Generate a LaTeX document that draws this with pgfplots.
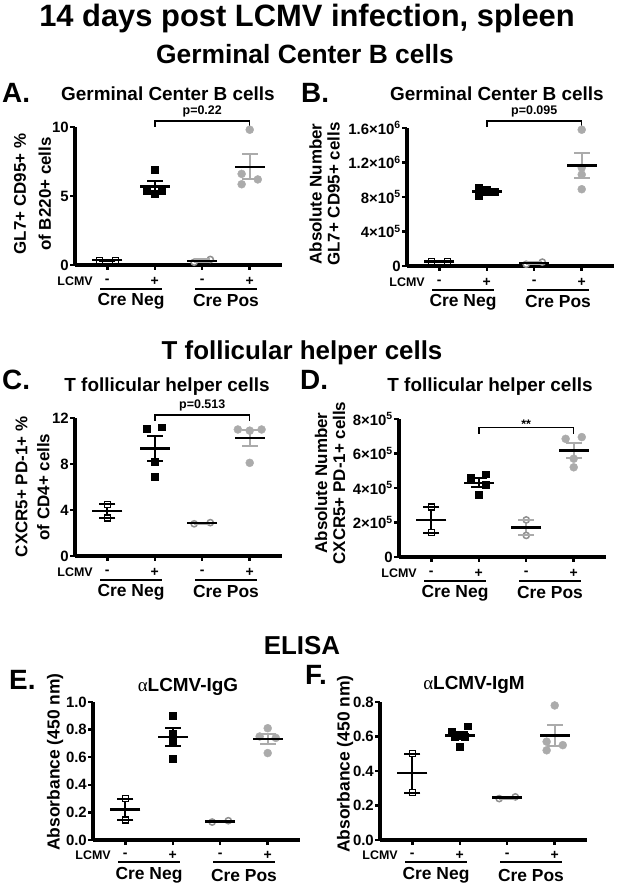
\documentclass[border=0pt]{standalone}
\usepackage{fontspec}
\setmainfont{Liberation Sans}
\newfontfamily\greekserif{Liberation Serif}
\usepackage{pgfplots}
\pgfplotsset{compat=1.18}
\definecolor{cpfill}{HTML}{ABABAB}
\definecolor{cpedge}{HTML}{8F8F8F}
\newcommand{\fs}[1]{\fontsize{#1}{#1}\selectfont\bfseries}
\pgfplotsset{
 panel/.style={
  scale only axis, width=207bp, height=138bp,
  xmin=0.32, xmax=4.68, ymin=0,
  axis x line=bottom, axis y line=left,
  axis line style={line width=4.2bp, black, -},
  xtick={1,2,3,4}, xticklabels={},
  tick align=outside, major tick length=5bp,
  tick style={line width=2.5bp, black},
  yticklabel style={font=\fs{15}, inner sep=1bp},
  scaled y ticks=false,
  clip=false, anchor=south west,
 },
 negpt/.style={only marks, mark=square*, mark size=3.4bp, mark options={fill=black, draw=black}},
 negopen/.style={only marks, mark=square*, mark size=3bp, mark options={fill=white, draw=black, line width=1.3bp}},
 pospt/.style={only marks, mark=*, mark size=4bp, mark options={fill=cpfill, draw=cpfill}},
 posopen/.style={only marks, mark=*, mark size=3.1bp, mark options={fill=white, draw=cpedge, line width=1.5bp}},
}
% x, mean, hi, lo, colour of SEM
\newcommand{\grp}[5]{%
 \addplot[line width=2bp, #5] coordinates {(#1,#3) (#1,#4)};
 \addplot[only marks, mark=-, mark size=8bp, mark options={line width=2bp, #5}] coordinates {(#1,#3) (#1,#4)};
 \addplot[only marks, mark=-, mark size=15bp, mark options={line width=2.5bp, black}] coordinates {(#1,#2)};
}
% shifts: +/- row, underline, group names
\newcommand{\catrow}[3]{%
 \node[font=\fs{12.5}, anchor=east] at ([xshift=-11bp,yshift=-#1]axis cs:1,0) {LCMV};
 \node[font=\fs{14}] at ([yshift=-#1]axis cs:1,0) {-};
 \node[font=\fs{14}] at ([yshift=-#1]axis cs:2,0) {+};
 \node[font=\fs{14}] at ([yshift=-#1]axis cs:3,0) {-};
 \node[font=\fs{14}] at ([yshift=-#1]axis cs:4,0) {+};
 \draw[line width=2bp] ([yshift=-#2]axis cs:0.85,0) -- ([yshift=-#2]axis cs:2.15,0);
 \draw[line width=2bp] ([yshift=-#2]axis cs:2.85,0) -- ([yshift=-#2]axis cs:4.15,0);
 \node[font=\fs{17.5}] at ([yshift=-#3]axis cs:1.5,0) {Cre Neg};
 \node[font=\fs{17.5}] at ([yshift=-#3]axis cs:3.5,0) {Cre Pos};
}
% bracket low, high, text
\newcommand{\pbr}[3]{%
 \addplot[line width=1.5bp, black] coordinates {(2,#1) (2,#2) (4,#2) (4,#1)};
 \node[font=\fs{12.5}, anchor=base, yshift=6.5bp] at (axis cs:3,#2) {#3};
}
\begin{document}
\begin{tikzpicture}[x=1bp,y=1bp]
\path[use as bounding box] (0,0) rectangle (625,888);

% ---------- A ----------
\begin{axis}[panel, at={(75bp,623bp)}, ymax=10, ytick={0,5,10}, yticklabels={0,5,10}]
\addplot[negopen] coordinates {(0.83,0.35) (1.17,0.35)};
\addplot[negpt] coordinates {(2,6.9) (1.83,5.35) (2.15,5.4) (2,5.15)};
\addplot[posopen] coordinates {(2.83,0.2) (3.17,0.4)};
\addplot[pospt] coordinates {(4,9.8) (3.83,6.6) (4.17,6.2) (3.83,5.85)};
\grp{1}{0.35}{0.38}{0.32}{black}
\grp{2}{5.7}{6.1}{5.3}{black}
\grp{3}{0.3}{0.4}{0.2}{cpfill}
\grp{4}{7.11}{8.02}{6.2}{cpfill}
\pbr{10.0}{10.45}{p=0.22}
\catrow{16bp}{24bp}{36bp}
\end{axis}

% ---------- B ----------
\begin{axis}[panel, at={(407bp,622bp)}, ymax=1600000, ytick={0,400000,800000,1200000,1600000},
 yticklabels={0,4×10\textsuperscript{5},8×10\textsuperscript{5},1.2×10\textsuperscript{6},1.6×10\textsuperscript{6}}]
\addplot[negopen] coordinates {(0.83,50000) (1.17,50000)};
\addplot[negpt] coordinates {(1.83,910000) (2,890000) (2.17,860000) (1.83,810000) (2,860000)};
\addplot[posopen] coordinates {(2.83,20000) (3.17,45000)};
\addplot[pospt] coordinates {(4,1580000) (4,1140000) (4,1060000) (4,890000)};
\grp{1}{50000}{55000}{45000}{black}
\grp{2}{866000}{883000}{849000}{black}
\grp{3}{32500}{45000}{20000}{cpfill}
\grp{4}{1167500}{1315000}{1020000}{cpfill}
\pbr{1610000}{1680000}{p=0.095}
\catrow{16bp}{24bp}{36bp}
\end{axis}

% ---------- C ----------
\begin{axis}[panel, at={(75bp,332bp)}, ymax=12, ytick={0,4,8,12}, yticklabels={0,4,8,12}]
\addplot[negopen] coordinates {(1,4.5) (1,3.3)};
\addplot[negpt] coordinates {(1.83,11.1) (2.15,11.2) (2,8.2) (2,6.9)};
\addplot[posopen] coordinates {(2.83,2.8) (3.17,2.9)};
\addplot[pospt] coordinates {(3.75,11.0) (4,10.9) (4.25,11.0) (4,8.1)};
\grp{1}{3.9}{4.5}{3.3}{black}
\grp{2}{9.35}{10.42}{8.28}{black}
\grp{3}{2.85}{2.9}{2.8}{cpfill}
\grp{4}{10.25}{10.97}{9.53}{cpfill}
\pbr{11.75}{12.25}{p=0.513}
\catrow{16bp}{24bp}{36bp}
\end{axis}

% ---------- D ----------
\begin{axis}[panel, at={(399bp,331bp)}, ymax=800000, ytick={0,200000,400000,600000,800000},
 yticklabels={0,2×10\textsuperscript{5},4×10\textsuperscript{5},6×10\textsuperscript{5},8×10\textsuperscript{5}}]
\addplot[negopen] coordinates {(1,290000) (1,140000)};
\addplot[negpt] coordinates {(1.83,460000) (2.15,480000) (2.15,420000) (2,360000)};
\addplot[posopen] coordinates {(3,215000) (3,125000)};
\addplot[pospt] coordinates {(3.83,685000) (4.17,695000) (4,570000) (4,520000)};
\grp{1}{215000}{290000}{140000}{black}
\grp{2}{430000}{456000}{404000}{black}
\grp{3}{170000}{215000}{125000}{cpfill}
\grp{4}{617500}{660000}{575000}{cpfill}
\addplot[line width=1.5bp, black] coordinates {(2,715000) (2,750000) (4,750000) (4,715000)};
\node[font=\fs{12.5}, anchor=base, yshift=-1bp] at (axis cs:3,750000) {**};
\catrow{16bp}{24bp}{36bp}
\end{axis}

% ---------- E ----------
\begin{axis}[panel, at={(93bp,48bp)}, ymax=1.0, ytick={0,0.2,0.4,0.6,0.8,1.0}, yticklabels={0.0,0.2,0.4,0.6,0.8,1.0}]
\addplot[negopen] coordinates {(1,0.30) (1,0.145)};
\addplot[negpt] coordinates {(2,0.90) (2,0.77) (2,0.72) (2,0.59)};
\addplot[posopen] coordinates {(2.83,0.13) (3.17,0.14)};
\addplot[pospt] coordinates {(4,0.81) (3.83,0.75) (4.17,0.74) (4,0.63)};
\grp{1}{0.2225}{0.30}{0.145}{black}
\grp{2}{0.745}{0.809}{0.681}{black}
\grp{3}{0.135}{0.14}{0.13}{cpfill}
\grp{4}{0.7325}{0.77}{0.695}{cpfill}
\catrow{15bp}{22bp}{35bp}
\end{axis}

% ---------- F ----------
\begin{axis}[panel, at={(380bp,48bp)}, ymax=0.8, ytick={0,0.2,0.4,0.6,0.8}, yticklabels={0.0,0.2,0.4,0.6,0.8}]
\addplot[negopen] coordinates {(1,0.50) (1,0.275)};
\addplot[negpt] coordinates {(2.17,0.66) (1.83,0.63) (2.1,0.60) (2,0.54) (1.9,0.60)};
\addplot[posopen] coordinates {(2.83,0.24) (3.17,0.25)};
\addplot[pospt] coordinates {(4,0.78) (4.17,0.55) (3.83,0.52) (3.83,0.57)};
\grp{1}{0.3875}{0.50}{0.275}{black}
\grp{2}{0.606}{0.626}{0.586}{black}
\grp{3}{0.245}{0.25}{0.24}{cpfill}
\grp{4}{0.605}{0.664}{0.546}{cpfill}
\catrow{15bp}{22bp}{35bp}
\end{axis}

% ---------- titles ----------
\node[font=\fs{31}, anchor=base] at (307,861) {14 days post LCMV infection, spleen};
\node[font=\fs{26.5}, anchor=base] at (305,824) {Germinal Center B cells};
\node[font=\fs{26}, anchor=base] at (302,528) {T follicular helper cells};
\node[font=\fs{26}, anchor=base] at (302,233) {ELISA};

\node[font=\fs{28}, anchor=base west, inner sep=0] at (2,785) {A.};
\node[font=\fs{28}, anchor=base west, inner sep=0] at (301,785) {B.};
\node[font=\fs{28}, anchor=base west, inner sep=0] at (2,498) {C.};
\node[font=\fs{28}, anchor=base west, inner sep=0] at (300,498) {D.};
\node[font=\fs{28}, anchor=base west, inner sep=0] at (9,198) {E.};
\node[font=\fs{28}, anchor=base west, inner sep=0] at (305,203) {F.};

\node[font=\fs{19}, anchor=base] at (168,787) {Germinal Center B cells};
\node[font=\fs{19}, anchor=base] at (497,787) {Germinal Center B cells};
\node[font=\fs{19}, anchor=base] at (167,496) {T follicular helper cells};
\node[font=\fs{19}, anchor=base] at (490,496) {T follicular helper cells};
\node[font=\fs{19}, anchor=base] at (188,196) {{\greekserif\mdseries α}LCMV-IgG};
\node[font=\fs{19}, anchor=base] at (474,198) {{\greekserif\mdseries α}LCMV-IgM};

\node[rotate=90, align=center, font=\fontsize{17}{25}\selectfont\bfseries] at (32.5,694) {GL7+ CD95+ \%\\of B220+ cells};
\node[rotate=90, align=center, font=\fontsize{17}{18}\selectfont\bfseries] at (324.5,694) {Absolute Number\\GL7+ CD95+ cells};
\node[rotate=90, align=center, font=\fontsize{17}{22}\selectfont\bfseries] at (32.5,401) {CXCR5+ PD-1+ \%\\of CD4+ cells};
\node[rotate=90, align=center, font=\fontsize{17}{18}\selectfont\bfseries] at (330,405) {Absolute Number\\CXCR5+ PD-1+ cells};
\node[rotate=90, font=\fs{17.5}] at (55,126) {Absorbance (450 nm)};
\node[rotate=90, font=\fs{17.5}] at (345,124) {Absorbance (450 nm)};
\end{tikzpicture}
\end{document}
